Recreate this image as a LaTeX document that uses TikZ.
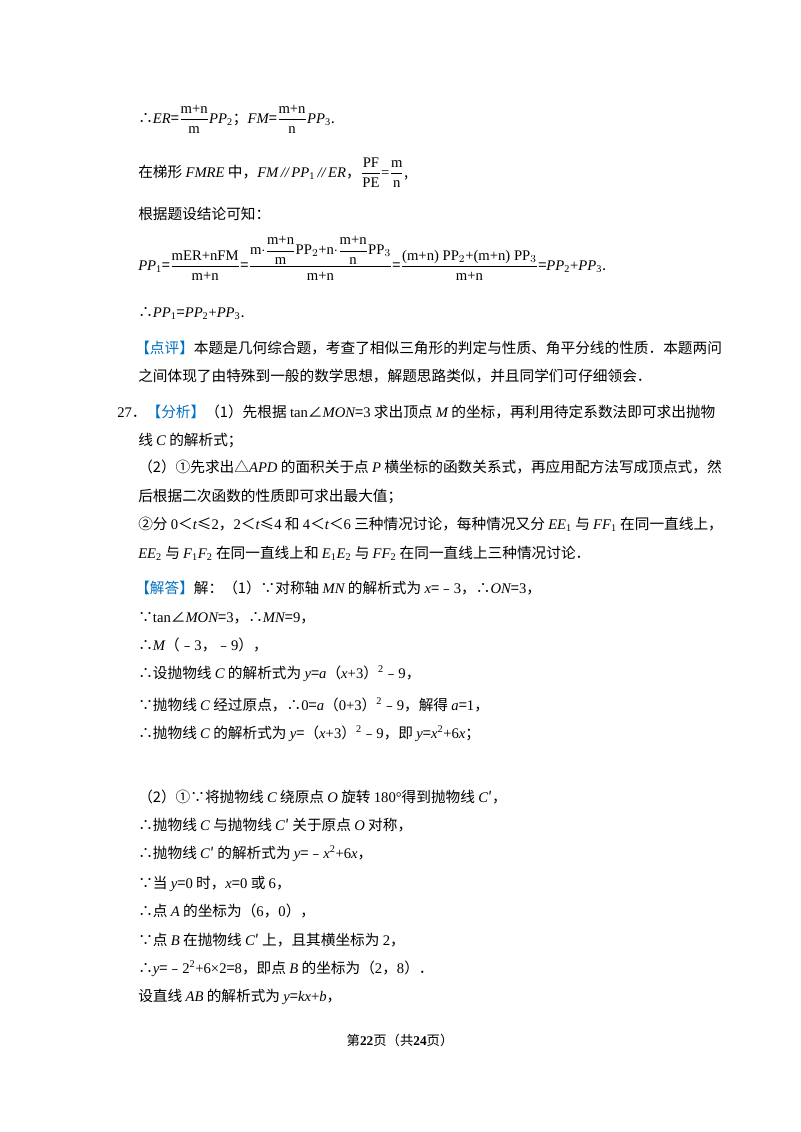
\documentclass[tikz,border=0pt]{standalone}
\usepackage{fontspec}
\setmainfont{Noto Sans CJK SC}
\newfontfamily\serf{Liberation Serif}
\newcommand{\ls}[1]{{\serf #1}}
\newcommand{\li}[1]{{\serf\itshape #1}}
\newcommand{\fr}[2]{$\displaystyle\frac{\mbox{\serf #1}}{\mbox{\serf #2}}$}
\definecolor{blu}{RGB}{0,112,192}
\begin{document}
\begin{tikzpicture}[x=0.75pt,y=-0.75pt,
  ln/.style={anchor=base west,inner sep=0,font=\fontsize{11}{13}\selectfont}]
\useasboundingbox[fill=white] (0,0) rectangle (800,1132);
\node[ln] (l1) at (138,123) {∴\li{ER}=\fr{m+n}{m}\li{PP}\ls{\textsubscript{2}}；\li{FM}=\fr{m+n}{n}\li{PP}\ls{\textsubscript{3}}.};
\node[ln] (l2) at (138,177) {在梯形 \li{FMRE} 中，\li{FM}\,\li{//}\,\li{PP}\ls{\textsubscript{1}}\,\li{//}\,\li{ER}，\fr{PF}{PE}\ls{=}\fr{m}{n},};
\node[ln] (l3) at (138,219) {根据题设结论可知：};
\node[ln] (l4) at (138,270) {\li{PP}\ls{\textsubscript{1}}=\fr{mER+nFM}{m+n}=$\displaystyle\frac{\mbox{\serf m$\cdot$}\displaystyle\frac{\mbox{\serf m+n}}{\mbox{\serf m}}\mbox{\serf PP$_2$+n$\cdot$}\displaystyle\frac{\mbox{\serf m+n}}{\mbox{\serf n}}\mbox{\serf PP$_3$}}{\mbox{\serf m+n}}$=\fr{(m+n) PP$_2$+(m+n) PP$_3$}{m+n}=\li{PP}\ls{\textsubscript{2}+}\li{PP}\ls{\textsubscript{3}}.};
\node[ln] (l5) at (138,317) {∴\li{PP}\ls{\textsubscript{1}}=\li{PP}\ls{\textsubscript{2}+}\li{PP}\ls{\textsubscript{3}}.};
\node[ln] (l6) at (135,353) {\textcolor{blu}{【点评】}本题是几何综合题，考查了相似三角形的判定与性质、角平分线的性质．本题两问};
\node[ln] (l7) at (138,381) {之间体现了由特殊到一般的数学思想，解题思路类似，并且同学们可仔细领会．};
\node[ln] (l8) at (117,417) {\ls{27}．\textcolor{blu}{【分析】}（1）先根据 \ls{tan}∠\li{MON}=\ls{3} 求出顶点 \li{M} 的坐标，再利用待定系数法即可求出抛物};
\node[ln] (l9) at (138,445) {线 \li{C} 的解析式；};
\node[ln] (l10) at (138,472) {（2）①先求出△\li{APD} 的面积关于点 \li{P} 横坐标的函数关系式，再应用配方法写成顶点式，然};
\node[ln] (l11) at (138,501) {后根据二次函数的性质即可求出最大值；};
\node[ln] (l12) at (138,529) {②分 \ls{0}＜\li{t}≤\ls{2}，\ls{2}＜\li{t}≤\ls{4} 和 \ls{4}＜\li{t}＜\ls{6} 三种情况讨论，每种情况又分 \li{EE}\ls{\textsubscript{1}} 与 \li{FF}\ls{\textsubscript{1}} 在同一直线上，};
\node[ln] (l13) at (138,558) {\li{EE}\ls{\textsubscript{2}} 与 \li{F}\ls{\textsubscript{1}}\li{F}\ls{\textsubscript{2}} 在同一直线上和 \li{E}\ls{\textsubscript{1}}\li{E}\ls{\textsubscript{2}} 与 \li{FF}\ls{\textsubscript{2}} 在同一直线上三种情况讨论．};
\node[ln] (l14) at (135,593) {\textcolor{blu}{【解答】}解：（1）∵对称轴 \li{MN} 的解析式为 \li{x}=﹣\ls{3}，∴\li{ON}=\ls{3}，};
\node[ln] (l15) at (138,622) {∵\ls{tan}∠\li{MON}=\ls{3}，∴\li{MN}=\ls{9}，};
\node[ln] (l16) at (138,650) {∴\li{M}（﹣\ls{3}，﹣\ls{9}），};
\node[ln] (l17) at (138,678) {∴设抛物线 \li{C} 的解析式为 \li{y}=\li{a}（\li{x}\ls{+3}）\ls{\textsuperscript{2}}﹣\ls{9}，};
\node[ln] (l18) at (138,710) {∵抛物线 \li{C} 经过原点，∴\ls{0}=\li{a}（\ls{0+3}）\ls{\textsuperscript{2}}﹣\ls{9}，解得 \li{a}=\ls{1}，};
\node[ln] (l19) at (138,738) {∴抛物线 \li{C} 的解析式为 \li{y}=（\li{x}\ls{+3}）\ls{\textsuperscript{2}}﹣\ls{9}，即 \li{y}=\li{x}\ls{\textsuperscript{2}+6}\li{x}；};
\node[ln] (l20) at (138,802) {（2）①∵将抛物线 \li{C} 绕原点 \li{O} 旋转 \ls{180°}得到抛物线 \li{C}′，};
\node[ln] (l21) at (138,830) {∴抛物线 \li{C} 与抛物线 \li{C}′ 关于原点 \li{O} 对称，};
\node[ln] (l22) at (138,858) {∴抛物线 \li{C}′ 的解析式为 \li{y}=﹣\li{x}\ls{\textsuperscript{2}+6}\li{x}，};
\node[ln] (l23) at (138,888) {∵当 \li{y}=\ls{0} 时，\li{x}=\ls{0} 或 \ls{6}，};
\node[ln] (l24) at (138,916) {∴点 \li{A} 的坐标为（\ls{6}，\ls{0}），};
\node[ln] (l25) at (138,945) {∵点 \li{B} 在抛物线 \li{C}′ 上，且其横坐标为 \ls{2}，};
\node[ln] (l26) at (138,973) {∴\li{y}=﹣\ls{2\textsuperscript{2}+6×2}=\ls{8}，即点 \li{B} 的坐标为（\ls{2}，\ls{8}）．};
\node[ln] (l27) at (138,1001) {设直线 \li{AB} 的解析式为 \li{y}=\li{kx}\ls{+}\li{b}，};
\node[ln,anchor=base,font=\fontsize{10}{12}\selectfont] (ft) at (400,1045) {第\textbf{\ls{22}}页（共\textbf{\ls{24}}页）};
\end{tikzpicture}
\end{document}
